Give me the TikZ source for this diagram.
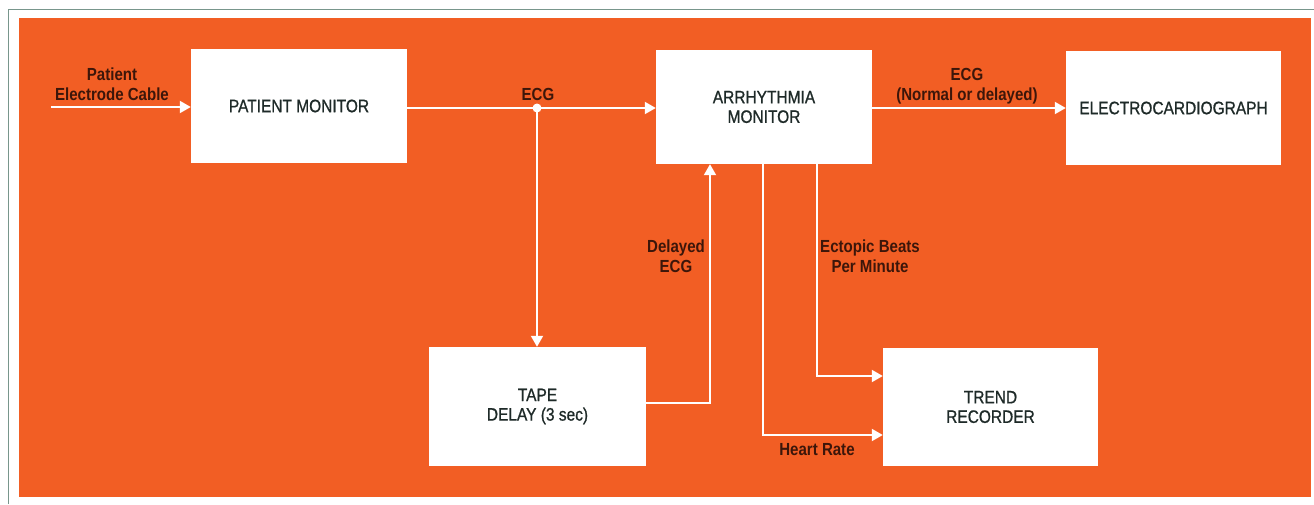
\documentclass[tikz,border=0pt]{standalone}
\usepackage{fontspec}
\setmainfont{Liberation Sans}[FakeStretch=0.86]
\newfontfamily\boxfont{Liberation Sans}[FakeStretch=0.86,FakeBold=0.9]
\usetikzlibrary{arrows.meta}
\definecolor{bgorange}{RGB}{242,94,36}
\definecolor{boxtext}{RGB}{30,42,40}
\definecolor{labtext}{RGB}{60,22,10}
\definecolor{frameline}{RGB}{120,150,140}
\tikzset{
  blk/.style={draw=none,fill=white,text=boxtext,align=center,inner sep=0pt,
    font=\boxfont\fontsize{18}{19.5}\selectfont},
  conn/.style={draw=white,line width=2pt,-{Triangle[length=11pt,width=12pt]}},
  lab/.style={text=labtext,align=center,inner sep=0pt,
    font=\bfseries\fontsize{17.5}{20}\selectfont},
}
\begin{document}
\begin{tikzpicture}[x=1pt,y=-1pt]
\useasboundingbox (0,0) rectangle (1314,504);
\fill[white] (0,0) rectangle (1314,504);
\draw[frameline,line width=1pt] (8,504) -- (8,9) -- (1314,9);
\fill[bgorange] (19,18) rectangle (1311,497);

\node[blk,minimum width=216pt,minimum height=114pt] (pm) at (299,106) {PATIENT MONITOR};
\node[blk,minimum width=216pt,minimum height=114pt] (arr) at (764,107) {ARRHYTHMIA\\MONITOR};
\node[blk,minimum width=215pt,minimum height=114pt] (ecg) at (1173.5,108) {ELECTROCARDIOGRAPH};
\node[blk,minimum width=217pt,minimum height=119pt] (tape) at (537.5,406.5) {TAPE\\DELAY (3 sec)};
\node[blk,minimum width=215pt,minimum height=118pt] (trend) at (990.5,407) {TREND\\RECORDER};

\coordinate (in) at (51,107);
\coordinate (split) at (537,108);

\draw[conn] (in) -- (pm.west |- in);
\draw[conn] (pm.east |- split) -- (arr.west |- split);
\fill[white] (split) circle (4.5pt);
\draw[conn] (split) -- (tape.north -| split);
\draw[conn] (tape.east |- 0,403) -| (arr.south -| 710,0);
\draw[conn] (arr.south -| 763,0) |- (trend.west |- 0,435);
\draw[conn] (arr.south -| 817,0) |- (trend.west |- 0,376);
\draw[conn] (arr.east |- 0,108) -- (ecg.west |- 0,108);

\node[lab] (l1) at (112,84) {Patient\\Electrode Cable};
\node[lab] (l2) at (538,94) {ECG};
\node[lab] (l3) at (967,86) {ECG\\(Normal or delayed)};
\node[lab] (l4) at (676,256) {Delayed\\ECG};
\node[lab] (l5) at (870,256) {Ectopic Beats\\Per Minute};
\node[lab] (l6) at (817,450) {Heart Rate};
\end{tikzpicture}
\end{document}
